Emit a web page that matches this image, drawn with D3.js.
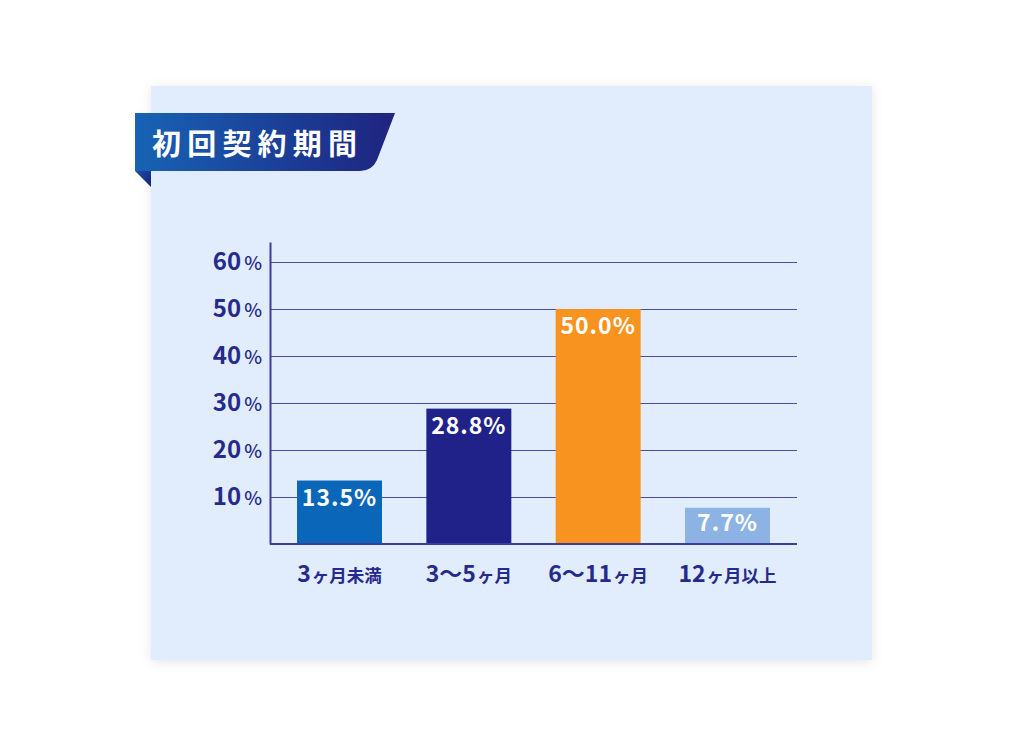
<!DOCTYPE html>
<html><head><meta charset="utf-8">
<script src="https://cdn.jsdelivr.net/npm/d3@7"></script>
<style>
html,body{margin:0;padding:0;background:#fff;}
svg{display:block;font-family:"Noto Sans CJK JP","Noto Sans",sans-serif;}
</style></head>
<body><svg id="c" width="1024" height="748"></svg>
<script>
const title = "初回契約期間";
const categories = ["3ヶ月未満","3〜5ヶ月","6〜11ヶ月","12ヶ月以上"];
const catNum = ["3","3〜5","6〜11","12"];
const catUnit = ["ヶ月未満","ヶ月","ヶ月","ヶ月以上"];
const values = [13.5, 28.8, 50.0, 7.7];
const valueLabels = ["13.5%","28.8%","50.0%","7.7%"];
const barColors = ["#0a66b8","#21218a","#f7931e","#8db3e5"];
const yTicks = [10,20,30,40,50,60];

const FONT = "'Noto Sans CJK JP','Noto Sans',sans-serif";
const svg = d3.select("#c");
const defs = svg.append("defs");
const f = defs.append("filter").attr("id","sh").attr("x","-10%").attr("y","-10%").attr("width","120%").attr("height","120%");
f.append("feDropShadow").attr("dx",0).attr("dy",2).attr("stdDeviation",6).attr("flood-color","#000").attr("flood-opacity",0.10);
const g = defs.append("linearGradient").attr("id","bg").attr("x1","0").attr("x2","1");
g.append("stop").attr("offset","0").attr("stop-color","#1763b5");
g.append("stop").attr("offset","1").attr("stop-color","#1f237f");
const g2 = defs.append("linearGradient").attr("id","fold").attr("x1","0").attr("x2","1").attr("y1","0").attr("y2","1");
g2.append("stop").attr("offset","0").attr("stop-color","#1e4fa8");
g2.append("stop").attr("offset","1").attr("stop-color","#14207a");

// panel
svg.append("rect").attr("x",151).attr("y",86).attr("width",721).attr("height",574)
  .attr("fill","#e1edfc").attr("filter","url(#sh)");

// title banner
svg.append("path").attr("d","M135,171 L151,171 L151,187 Z").attr("fill","url(#fold)");
svg.append("path").attr("d","M135,113 L395,113 L377,160 Q372,171 360,171 L135,171 Z").attr("fill","url(#bg)");
svg.append("text").attr("x",152).attr("y",155).attr("fill","#fff").attr("font-size",29).attr("font-weight",700)
  .attr("font-family",FONT).attr("letter-spacing",6.2).text(title);

// scales
const x = d3.scaleBand().domain(categories).range([270,797]).paddingInner(0.343).paddingOuter(0.209);
const y = d3.scaleLinear().domain([0,64.25]).range([544,242]);
const navy = "#262a8c";

// gridlines
const grid = svg.append("g").attr("transform","translate(270,0)")
  .call(d3.axisLeft(y).tickValues(yTicks).tickSize(-527).tickFormat(""));
grid.select(".domain").remove();
grid.selectAll(".tick line").attr("stroke","#4b4ba6").attr("stroke-width",1.2);

// bars
svg.selectAll("rect.bar").data(values).join("rect").attr("class","bar")
  .attr("x",(d,i)=>x(categories[i])).attr("width",x.bandwidth())
  .attr("y",d=>y(d)).attr("height",d=>y(0)-y(d))
  .attr("fill",(d,i)=>barColors[i]);

// value labels
svg.selectAll("text.val").data(values).join("text").attr("class","val")
  .attr("x",(d,i)=>x(categories[i])+x.bandwidth()/2)
  .attr("y",(d,i)=> i===3 ? y(d)+23 : y(d)+25)
  .attr("text-anchor","middle").attr("fill","#fff").attr("font-size",23).attr("font-weight",700)
  .attr("font-family",FONT).attr("letter-spacing",1).text((d,i)=>valueLabels[i]);

// y axis
const ya = svg.append("g").attr("transform","translate(270,0)")
  .call(d3.axisLeft(y).tickValues(yTicks).tickSize(0).tickPadding(8).tickFormat(""))
  .attr("font-family",FONT).attr("font-size",null);
ya.select(".domain").attr("stroke","#3d3d9e").attr("stroke-width",2);
ya.selectAll(".tick text").each(function(d){
  const t = d3.select(this).attr("fill",navy).attr("dy","0.48em").attr("x",-8);
  t.append("tspan").attr("font-size",24).attr("font-weight",700).text(d);
  t.append("tspan").attr("font-size",19).attr("font-weight",500).attr("dx",3).text("%");
});

// x axis
const xa = svg.append("g").attr("transform","translate(0,544)")
  .call(d3.axisBottom(x).tickSize(0).tickPadding(0).tickFormat(""))
  .attr("font-family",FONT).attr("font-size",null);
xa.select(".domain").attr("stroke","#3d3d9e").attr("stroke-width",2).attr("d","M270,0H797");
xa.selectAll(".tick text").each(function(d,i){
  const t = d3.select(this).attr("fill",navy).attr("font-weight",700).attr("y",38).attr("dy",0);
  t.append("tspan").attr("font-size",23).text(catNum[i]);
  t.append("tspan").attr("font-size",17.5).attr("dx",1).text(catUnit[i]);
});
</script></body></html>
